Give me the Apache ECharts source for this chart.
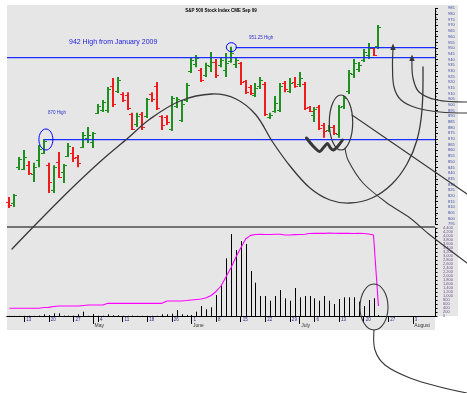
<!DOCTYPE html>
<html><head><meta charset="utf-8">
<script src="https://cdn.jsdelivr.net/npm/echarts@6/dist/echarts.min.js"></script>
<style>html,body{margin:0;padding:0;background:#fff}#c{width:467px;height:393px}</style>
</head><body><div id="c"></div>
<script>
// ---- DATA ----
const tradingDays = ['4/7','4/8','4/9','4/13','4/14','4/15','4/16','4/17','4/20','4/21','4/22','4/23','4/24','4/27','4/28','4/29','4/30',
'5/1','5/4','5/5','5/6','5/7','5/8','5/11','5/12','5/13','5/14','5/15','5/18','5/19','5/20','5/21','5/22','5/26','5/27','5/28','5/29',
'6/1','6/2','6/3','6/4','6/5','6/8','6/9','6/10','6/11','6/12','6/15','6/16','6/17','6/18','6/19','6/22','6/23','6/24','6/25','6/26','6/29','6/30',
'7/1','7/2','7/3','7/6','7/7','7/8','7/9','7/10','7/13','7/14','7/15','7/16','7/17','7/20','7/21','7/22','7/23','7/24','7/27','7/28','7/29','7/30','7/31',
'8/3','8/4','8/5','8/6','8/7'];
const opens  = [814.5,813.75,845.25,843.5,847,839.25,851.5,857.75,847,825,849.75,841,855,857.75,854.25,863,871,867.25,893,895.5,895.5,916.75,912.25,909.5,908.75,892,883.25,892,890.25,909.5,916.75,890.25,889.5,878.75,899,886.75,904.25,929.75,936,930.75,926.25,934.25,937.75,935,930.75,938.75,936,937,921,915.75,908.75,916.75,918.5,889.5,894.75,895.5,919.25,912.25,920.25,918.5,918.5,898.25,891,898.25,882.25,878,880.5,874.5,899,912.25,927.25,931.5,939.5,944,950,951.75];
const highs  = [819,821.5,854.25,860.25,850.75,849,864.75,870,849,847,858.5,848,866.5,863,856,876.25,880.5,876.25,900.75,904.25,915.75,923.75,924.5,911.25,911.25,893,893,893.75,906,911.25,920.25,891,891,907.75,907,904.25,919.25,942.25,944,932.5,937,946.5,940.5,942.25,945.75,951.25,941.25,937.75,922,917.5,919.25,924.5,920.25,893,907.75,919.25,921,923.75,924.5,929,920.25,899,898.25,900,884,882.25,882.25,900,907.75,930.75,940.5,937.75,949.25,954.5,951,970.25];
const lows   = [809.25,810.25,842.75,842.75,838.25,832.25,845.25,856.75,822.5,822.5,835.75,831.25,854.25,849.75,845.25,862,866.5,862,892,893.75,893,898.25,910.5,902.5,895.5,878,880.5,878,888.5,902.5,895.5,878,882.25,877,897.25,885,902.5,928,933.25,920.25,924.5,929,923.75,933.25,924.5,937,932.5,917.5,909.5,908.75,907,914,890.25,887.5,893,893.75,911.25,910.5,915,915.75,895.5,893.75,885,878,871,876.25,873.5,871,896.5,909.5,923.75,929,937.75,940.5,943,949.25];
const closes = [812,820.75,852.5,854.25,840,845.25,861.25,868.25,832.25,845.25,836.5,847,863.75,853.25,849,873.5,873.5,875.25,899,902.5,914,900.75,922,904.25,897.25,878.75,890.25,880.5,905.25,905.25,897.25,882.25,885,906,905.25,900.75,917.5,939.5,941.25,922,935,937.75,926.25,939.5,937,945.75,939.5,920.25,911.25,910.5,915,922,892,891,901.75,916.75,914,919.25,916.75,923.75,897.25,894.75,896.5,879.75,877,880.5,875.25,898.25,906,928,937,935,946.5,950,944,968.5];
const volumes = [10,5,10,10,15,10,20,85,50,135,135,20,20,20,85,215,10,100,15,15,85,35,35,10,10,20,10,10,10,10,10,85,85,115,300,85,50,50,215,500,335,435,1050,1550,2885,4100,3300,3750,3600,2250,1665,1000,1000,765,1000,1300,885,765,1400,935,1000,1000,885,765,1000,765,600,850,935,935,935,715,500,800,885,50];
const openInterest = [58,58,58,58,58,58,58,64,65,71,75,75,75,75,75,79,83,83,83,83,95,95,95,95,95,95,95,95,95,95,95,95,113,113,113,113,116,120,124,128,137,154,184,225,293,360,439,510,578,605,611,613,611,611,613,613,608,608,610,611,613,619,620,621,620,622,621,620,621,620,619,620,619,615,608,75];
const levelPrices = [942, 951.25, 870];
const levelStart  = [-1, 46, 7];
const monthNames = ['January','February','March','April','May','June','July','August','September','October','November','December'];
const titleText = 'S&P 500 Stock Index CME Sep 09';
const noteText = '942 High from January 2009';
const highNotes = ['870 High', '951.25 High'];

// ---- derived ----
const parsed = tradingDays.map(s => { const [m,d] = s.split('/').map(Number); return {m, d, dow: new Date(Date.UTC(2009, m-1, d)).getUTCDay()}; });
const isWeekStart = i => i > 0 && parsed[i].dow < parsed[i-1].dow;
const isMonthStart = i => i > 0 && parsed[i].m !== parsed[i-1].m;
const ohlc = opens.map((o,i) => [i, o, closes[i], lows[i], highs[i]]);
const volData = volumes.map((v,i) => [i, v]);
const GREEN = '#1f8f1f', RED = '#ee1c1c', BLUE = '#0000ff', LEVEL = '#1a2cff';
const FONT = 'Liberation Sans';

const chart = echarts.init(document.getElementById('c'), null, {renderer:'canvas', width:467, height:393});
const option = {
  animation: false,
  backgroundColor: '#ffffff',
  grid: [
    {left: 7, width: 428, top: 8.32, height: 215.91, outerBoundsMode: 'none'},
    {left: 7, width: 428, top: 228, height: 88, outerBoundsMode: 'none'}
  ],
  xAxis: [
    {type:'category', gridIndex:0, data: tradingDays, show:false, boundaryGap:true},
    {type:'category', gridIndex:1, data: tradingDays, boundaryGap:true,
     axisLine:{show:true, lineStyle:{color:'#000', width:1}},
     axisTick:{show:true, alignWithLabel:true, length:6, interval:(i)=>isWeekStart(i)||isMonthStart(i), lineStyle:{color:'#000', width:1}},
     axisLabel:{show:true, interval:(i)=>isWeekStart(i), formatter:(v,i)=>String(parsed[i].d), align:'left', margin:1.2, padding:[0,0,0,2], fontSize:4.5, lineHeight:4.5, color:'#2a2a88', fontFamily:FONT, hideOverlap:false},
     splitLine:{show:false}},
    {type:'category', gridIndex:1, data: tradingDays, boundaryGap:true, position:'bottom', offset:6,
     axisLine:{show:true, lineStyle:{color:'#000', width:1}},
     axisTick:{show:true, alignWithLabel:true, length:8, interval:(i)=>isMonthStart(i), lineStyle:{color:'#000', width:1}},
     axisLabel:{show:true, interval:(i)=>isMonthStart(i), formatter:(v,i)=>monthNames[parsed[i].m-1], align:'left', margin:1.5, padding:[0,0,0,1.5], fontSize:5, lineHeight:5, color:'#333', fontFamily:FONT, hideOverlap:false},
     splitLine:{show:false}}
  ],
  yAxis: [
    {type:'value', gridIndex:0, position:'right', min:795, max:985, interval:5, scale:true,
     axisLine:{show:true, lineStyle:{color:'#000', width:1}},
     axisTick:{show:true, length:3, lineStyle:{color:'#000'}},
     minorTick:{show:true, splitNumber:2, length:1.5, lineStyle:{color:'#000'}},
     axisLabel:{show:true, margin:13, fontSize:4, color:'#3a4aa0', fontFamily:FONT, hideOverlap:false},
     splitLine:{show:false}},
    {type:'value', gridIndex:1, position:'right', min:0, max:4400, interval:200,
     axisLine:{show:true, lineStyle:{color:'#000', width:1}},
     axisTick:{show:true, length:2.5, lineStyle:{color:'#000'}},
     axisLabel:{show:true, margin:8, fontSize:4, color:'#6a4f80', fontFamily:FONT, hideOverlap:false},
     splitLine:{show:false}},
    {type:'value', gridIndex:1, position:'right', min:0, max:660, show:false, splitLine:{show:false}}
  ],
  series: [
    {type:'custom', name:'OHLC', xAxisIndex:0, yAxisIndex:0, z:4,
     dimensions:['i','open','close','low','high'],
     encode:{x:0, y:[1,2,3,4]},
     data: ohlc,
     renderItem(params, api){
       const i = api.value(0);
       const o = api.coord([i, api.value(1)]);
       const c = api.coord([i, api.value(2)]);
       const l = api.coord([i, api.value(3)]);
       const h = api.coord([i, api.value(4)]);
       const x = Math.round(o[0]);
       const color = api.value(2) >= api.value(1) ? GREEN : RED;
       return {type:'group', children:[
         {type:'line', shape:{x1:x, y1:h[1], x2:x, y2:l[1]}, style:{stroke:color, lineWidth:2}},
         {type:'line', shape:{x1:x-3, y1:Math.round(o[1])+0.5, x2:x, y2:Math.round(o[1])+0.5}, style:{stroke:color, lineWidth:1}},
         {type:'line', shape:{x1:x, y1:Math.round(c[1])+0.5, x2:x+3, y2:Math.round(c[1])+0.5}, style:{stroke:color, lineWidth:1}}
       ]};
     }},
    {type:'custom', name:'Volume', xAxisIndex:1, yAxisIndex:1, z:3,
     encode:{x:0, y:1},
     data: volData,
     renderItem(params, api){
       const t = api.coord([api.value(0), api.value(1)]);
       const b = api.coord([api.value(0), 0]);
       const x = Math.round(t[0]) + 0.5;
       return {type:'line', shape:{x1:x, y1:t[1], x2:x, y2:b[1]}, style:{stroke:'#000', lineWidth:1}};
     }},
    {type:'line', name:'Open Interest', xAxisIndex:1, yAxisIndex:2, z:5, data: openInterest,
     showSymbol:false, symbol:'none', lineStyle:{color:'#ff00ff', width:1.1}}
  ]
};
chart.setOption(option);

// ---- graphics (levels via the price scale, background, notes, hand-drawn annotations) ----
const px = (i, v) => chart.convertToPixel({gridIndex:0}, [i, v]);
const gridLeft = 7, gridRight = 435;
const levelLines = levelPrices.map((p, k) => {
  const s = px(Math.max(levelStart[k], 0), p);
  const x1 = levelStart[k] < 0 ? gridLeft : s[0];
  const y = Math.round(s[1]);
  return {type:'rect', z:30, silent:true, shape:{x:x1, y:y, width:gridRight - x1, height:1.3}, style:{fill:LEVEL}};
});
const c1 = px(7, highs[7]);
const c2 = px(45, highs[45]);
const INK = '#383838';
const curve = (pts, w, smooth) => ({type:'polyline', z:100, silent:true, shape:{points:pts, smooth:smooth}, style:{stroke:INK, lineWidth:w, fill:null, lineCap:'round', lineJoin:'round'}});
const graphics = [
  {type:'rect', z:-10, silent:true, shape:{x:7, y:5, width:451, height:311}, style:{fill:'#e6e6e6'}},
  {type:'rect', z:-10, silent:true, shape:{x:7, y:316, width:428, height:14}, style:{fill:'#e6e6e6'}},
  {type:'line', z:5, silent:true, shape:{x1:7, y1:227, x2:435, y2:227}, style:{stroke:'#000', lineWidth:1}},
  ...levelLines,
  {type:'text', z:20, silent:true, style:{x:221, y:10.5, text:titleText, fill:'#000', font:'bold 4.5px "Liberation Sans"', align:'center', verticalAlign:'middle'}},
  {type:'text', z:20, silent:true, style:{x:69, y:42, text:noteText, fill:'#2222e0', font:'7px "Liberation Sans"', align:'left', verticalAlign:'middle'}},
  {type:'text', z:20, silent:true, style:{x:48, y:113, text:highNotes[0], fill:'#3030d0', font:'4.5px "Liberation Sans"', align:'left', verticalAlign:'middle'}},
  {type:'text', z:20, silent:true, style:{x:249, y:38, text:highNotes[1], fill:'#3030d0', font:'4.5px "Liberation Sans"', align:'left', verticalAlign:'middle'}},
  {type:'ellipse', z:31, silent:true, shape:{cx:c1[0]+2, cy:c1[1]+0.5, rx:7, ry:10.5}, style:{stroke:BLUE, fill:null, lineWidth:1}},
  {type:'ellipse', z:31, silent:true, shape:{cx:c2[0]+0.5, cy:c2[1]+0.5, rx:5, ry:4.5}, style:{stroke:BLUE, fill:null, lineWidth:1}},
  // big sine-like arc
  curve([[12,249],[40,220],[72,188],[102,160],[128,138],[150,119],[180,101],[212,94],[236,99],[256,115],[272,141],[290,166],[310,188],[330,200],[350,203],[372,198],[392,184],[407,164],[417,140],[422,110],[423,67]], 1.3, 0.35),
  // arrows
  curve([[467,113],[440,112],[417,108],[401,100],[394,87],[392.5,66],[393,49]], 1.2, 0.35),
  curve([[467,102],[437,100],[419,92],[413,78],[412,60]], 1.2, 0.35),
  {type:'polygon', z:100, silent:true, shape:{points:[[393,43.5],[390.3,50],[395.7,50]]}, style:{fill:INK}},
  {type:'polygon', z:100, silent:true, shape:{points:[[412,54.5],[409.3,61],[414.7,61]]}, style:{fill:INK}},
  // ellipse around W bars
  {type:'ellipse', z:100, silent:true, shape:{cx:341, cy:122.5, rx:11.7, ry:27.5}, style:{stroke:INK, fill:null, lineWidth:1.2}},
  curve([[352,115],[467,194]], 1.1, 0),
  curve([[345,148],[348,160],[363,183],[387,203],[410,218],[430,235],[467,263]], 1.1, 0.3),
  // W scribble
  curve([[306.5,138],[313,146],[319.5,151.5],[324,147],[327.5,143.5],[330.5,148],[333.5,150],[338,146],[342.5,140]], 3, 0.3),
  // ellipse around last volume bar + leader
  {type:'ellipse', z:100, silent:true, shape:{cx:374, cy:307, rx:14, ry:23}, style:{stroke:INK, fill:null, lineWidth:1.1}},
  curve([[374,330],[375,350],[385,365],[410,378],[440,387],[467,393]], 1.1, 0.35)
];
chart.setOption({graphic: graphics});
</script>
</body></html>
